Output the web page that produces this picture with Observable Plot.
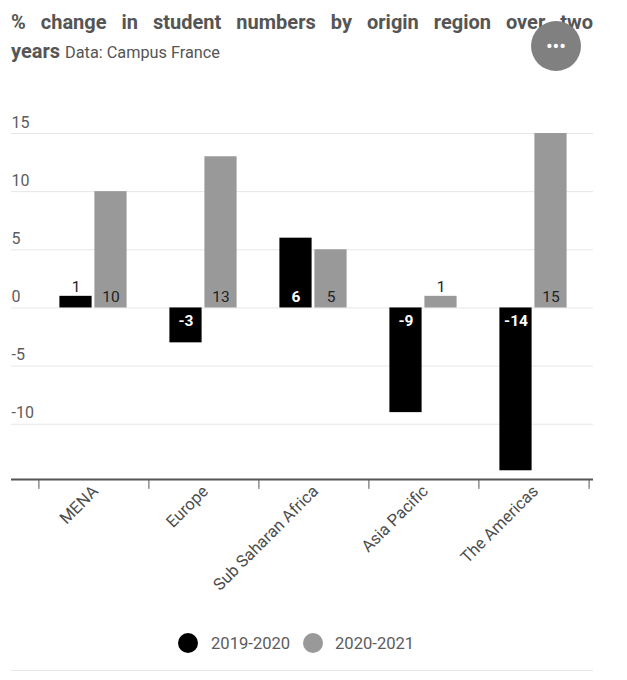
<!DOCTYPE html>
<html>
<head>
<meta charset="utf-8">
<script src="https://cdn.jsdelivr.net/npm/d3@7"></script>
<script src="https://cdn.jsdelivr.net/npm/@observablehq/plot@0.6"></script>
<style>
html,body{margin:0;padding:0;background:#fff;font-family:Roboto,sans-serif;}
#page{position:relative;width:627px;height:680px;overflow:hidden;}
#title{position:absolute;left:11px;top:8px;width:582px;font-size:20px;font-weight:700;line-height:29px;color:#555;}
#title .l1{text-align:justify;text-align-last:justify;}
#title small{font-size:16.3px;font-weight:400;color:#555;}
#chart{position:absolute;left:0;top:70px;}
#legend{position:absolute;left:0;top:633px;width:627px;height:22px;color:#5c5c5c;font-size:16.6px;}
#legend span{position:absolute;top:1px;}
#legend i{position:absolute;top:0;width:20px;height:20px;border-radius:50%;}
#hr{position:absolute;left:11px;top:670px;width:582px;height:1px;background:#e6e6e6;}
#menu{position:absolute;left:531px;top:21px;width:50px;height:50px;border-radius:50%;background:#808080;color:#fff;font-size:20px;line-height:50px;text-align:center;}
</style>
</head>
<body>
<div id="page">
  <div id="title"><div class="l1">% change in student numbers by origin region over two</div><div>years <small>Data: Campus France</small></div></div>
  <div id="chart"></div>
  <div id="menu">•••</div>
  <div id="legend"></div>
  <div id="hr"></div>
</div>
<script>
const regions = ["MENA", "Europe", "Sub Saharan Africa", "Asia Pacific", "The Americas"];
const values2019 = [1, -3, 6, -9, -14];
const values2020 = [10, 13, 5, 1, 15];
const seriesNames = ["2019-2020", "2020-2021"];
const seriesColors = ["#000000", "#999999"];
const yTicks = [-10, -5, 0, 5, 10, 15];

const s1 = regions.map((r, i) => ({region: r, value: values2019[i]}));
const s2 = regions.map((r, i) => ({region: r, value: values2020[i]}));
const yMin = -14.75;
const tickEnd = -15.6;

function labelMarks(data, dx, inside) {
  const big = data.filter(d => Math.abs(d.value) > 1);
  const small = data.filter(d => Math.abs(d.value) <= 1);
  const weight = inside === "#fff" ? 700 : 400;
  return [
    Plot.text(big.filter(d => d.value > 0), {x: "region", y: 0, text: d => String(d.value), dx, dy: -10.5, fill: inside, fontSize: 15.5, fontWeight: weight}),
    Plot.text(big.filter(d => d.value < 0), {x: "region", y: 0, text: d => String(d.value), dx, dy: 13, fill: inside, fontSize: 15.5, fontWeight: weight}),
    Plot.text(small, {x: "region", y: "value", text: d => String(d.value), dx, dy: -9, fill: "#222", fontSize: 15.5})
  ];
}

const chart = Plot.plot({
  width: 627,
  height: 530,
  marginLeft: 11,
  marginRight: 34,
  marginTop: 63,
  marginBottom: 121,
  style: {fontFamily: "Roboto, sans-serif", background: "transparent"},
  x: {domain: regions, range: [38, 589], padding: 0, label: null},
  y: {domain: [yMin, 15], label: null, axis: null},
  marks: [
    Plot.ruleY(yTicks, {stroke: "#e6e6e6", strokeWidth: 1}),
    Plot.barY(s1, {x: "region", y: "value", fill: seriesColors[0], dx: -18.5, insetLeft: 38.9, insetRight: 38.9}),
    Plot.barY(s2, {x: "region", y: "value", fill: seriesColors[1], dx: 16.5, insetLeft: 38.9, insetRight: 38.9}),
    ...labelMarks(s1, -18.5, "#fff"),
    ...labelMarks(s2, 16.5, "#222"),
    Plot.text(yTicks, {y: d => d, frameAnchor: "left", text: d => String(d), textAnchor: "start", dy: -11, fill: "#5c5c5c", fontSize: 16}),
    Plot.ruleX(regions, {x: d => d, y1: yMin, y2: tickEnd, dx: -55.6, stroke: "#555"}),
    Plot.ruleX(regions.slice(-1), {x: d => d, y1: yMin, y2: tickEnd, dx: 54.6, stroke: "#555"}),
    Plot.ruleY([yMin], {stroke: "#555", strokeWidth: 2}),
    Plot.axisX({anchor: "bottom", tickSize: 0, tickPadding: 9, tickRotate: -45, fontSize: 16.5, fill: "#4d4d4d", textAnchor: "end", label: null, dx: 1})
  ]
});
document.getElementById("chart").appendChild(chart);

const legend = document.getElementById("legend");
[[178, 211], [303, 335]].forEach(([cx, tx], i) => {
  const dot = document.createElement("i");
  dot.style.left = cx + "px";
  dot.style.background = seriesColors[i];
  legend.appendChild(dot);
  const t = document.createElement("span");
  t.style.left = tx + "px";
  t.textContent = seriesNames[i];
  legend.appendChild(t);
});
</script>
</body>
</html>
